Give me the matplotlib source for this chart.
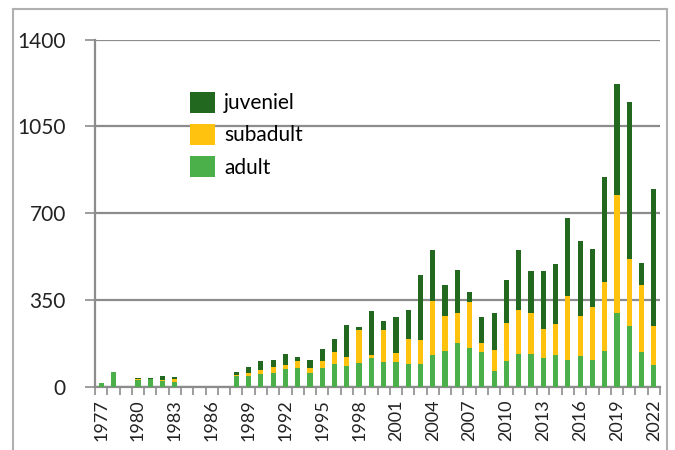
import matplotlib
matplotlib.use('Agg')
import matplotlib.pyplot as plt
from matplotlib.lines import Line2D
import numpy as np

years = list(range(1977, 2023))

# (counts per year)
adult = [15, 60, 0, 30, 32, 25, 20, 0, 0, 0, 0, 44, 46, 51, 58, 71, 77, 55, 78, 93,
         84, 98, 115, 102, 99, 91, 91, 127, 147, 178, 158, 139, 65, 103, 134, 134,
         118, 130, 110, 125, 107, 144, 298, 244, 141, 87]
subadult = [0, 0, 0, 3, 0, 3, 12, 0, 0, 0, 0, 4, 12, 17, 23, 16, 27, 20, 26, 49,
            37, 130, 15, 129, 37, 103, 97, 218, 141, 119, 184, 40, 85, 154, 178, 166,
            117, 125, 255, 163, 215, 278, 477, 270, 268, 158]
juveniel = [0, 0, 0, 2, 6, 17, 8, 0, 0, 0, 0, 13, 23, 37, 29, 44, 16, 33, 48, 50,
            127, 13, 176, 36, 145, 117, 265, 206, 121, 174, 40, 105, 147, 175, 238, 166,
            233, 241, 316, 299, 232, 423, 445, 635, 90, 553]

y_ticks = [0, 350, 700, 1050, 1400]

c_adult = '#4cb04a'
c_sub = '#ffc20e'
c_juv = '#22681f'

plt.rcParams['font.family'] = ['Lato', 'DejaVu Sans']

fig = plt.figure(figsize=(6.75, 4.5), dpi=100)
ax = fig.add_axes([95 / 675, 1 - 387 / 450, (660 - 95) / 675, (387 - 39.5) / 450])

x = np.arange(len(years))
adult = np.array(adult)
subadult = np.array(subadult)
juveniel = np.array(juveniel)
w = 0.42

ax.bar(x, adult, width=w, color=c_adult, label='adult', zorder=3)
ax.bar(x, subadult, width=w, bottom=adult, color=c_sub, label='subadult', zorder=3)
ax.bar(x, juveniel, width=w, bottom=adult + subadult, color=c_juv, label='juveniel', zorder=3)

ax.set_xlim(-0.5, len(years) - 0.5)
ax.set_ylim(0, 1400)
ax.set_yticks(y_ticks)
ax.set_yticklabels([str(v) for v in y_ticks], fontsize=15, color='#222222')
ax.yaxis.grid(True, color='#8c8c8c', linewidth=1.6, zorder=0)
ax.tick_params(axis='y', length=7, width=1.2, color='#8c8c8c', pad=14)

# year labels every third year, ticks between categories
lab_idx = [i for i, yr in enumerate(years) if (yr - 1977) % 3 == 0]
ax.set_xticks(lab_idx)
ax.set_xticklabels([str(years[i]) for i in lab_idx], rotation=90, fontsize=13, color='#222222')
ax.tick_params(axis='x', length=0, pad=9)
ax.set_xticks(np.arange(len(years) + 1) - 0.5, minor=True)
ax.tick_params(axis='x', which='minor', length=6, width=1.2, color='#8c8c8c')

for s in ['top', 'right']:
    ax.spines[s].set_visible(False)
for s in ['left', 'bottom']:
    ax.spines[s].set_color('#8c8c8c')
    ax.spines[s].set_linewidth(1.6)

handles, labels = ax.get_legend_handles_labels()
leg = ax.legend(handles[::-1], labels[::-1], loc='upper left',
                bbox_to_anchor=(0.168, 0.85), frameon=False, fontsize=15,
                handlelength=1.2, handleheight=1.2, handletextpad=0.45,
                labelspacing=0.5, borderaxespad=0, borderpad=0)

# outer chart frame
fc = '#b0b0b0'
fig.add_artist(Line2D([13 / 675, 13 / 675], [0, 1 - 9 / 450], color=fc, lw=1.5))
fig.add_artist(Line2D([667 / 675, 667 / 675], [0, 1 - 9 / 450], color=fc, lw=1.5))
fig.add_artist(Line2D([13 / 675, 667 / 675], [1 - 9 / 450, 1 - 9 / 450], color=fc, lw=1.5))

fig.savefig('out.png', dpi=100)
